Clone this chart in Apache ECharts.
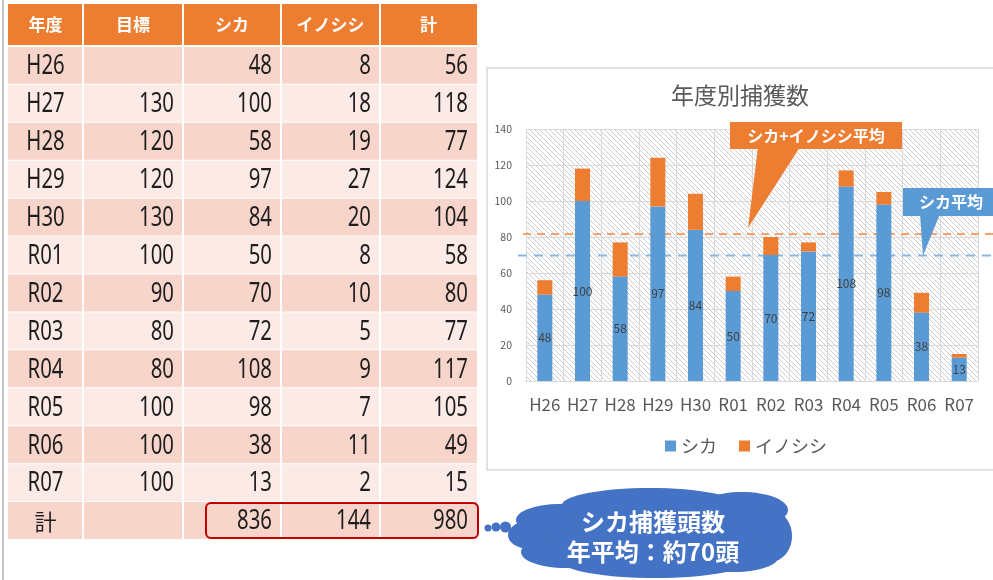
<!DOCTYPE html>
<html>
<head>
<meta charset="utf-8">
<script src="https://cdn.jsdelivr.net/npm/echarts@6.0.0/dist/echarts.min.js"></script>
<style>
html,body{margin:0;padding:0;background:#fff;}
#main{width:993px;height:580px;}
</style>
</head>
<body>
<div id="main"></div>
<script>
// ---------------- data ----------------
const years = ['H26','H27','H28','H29','H30','R01','R02','R03','R04','R05','R06','R07'];
const targets = [null,130,120,120,130,100,90,80,80,100,100,100];
const shika = [48,100,58,97,84,50,70,72,108,98,38,13];
const inoshishi = [8,18,19,27,20,8,10,5,9,7,11,2];
const totals = [56,118,77,124,104,58,80,77,117,105,49,15];
const headers = ['年度','目標','シカ','イノシシ','計'];
const totalRowLabel = '計';
const totalRow = [836,144,980];
const chartTitle = '年度別捕獲数';
const seriesNames = ['シカ','イノシシ'];
const yTicks = [0,20,40,60,80,100,120,140];
const calloutTotalText = 'シカ+イノシシ平均';
const calloutShikaText = 'シカ平均';
const cloudLines = ['シカ捕獲頭数','年平均：約70頭'];

// ---------------- style / layout ----------------
const BLUE = '#5B9BD5', ORANGE = '#ED7D31';
const HEADER_BG = '#ED7D31', ROW_DARK = '#F8D5CB', ROW_LIGHT = '#FCEAE6';
const COL_W = [75,100,98,99,97];
const COL_START = COL_W.map((w,i)=>COL_W.slice(0,i).reduce((a,b)=>a+b,0));
const TABLE_W = COL_W.reduce((a,b)=>a+b,0);
const NUM_FONT = "'Noto Sans','Noto Sans CJK JP',sans-serif";
const CJK_FONT = "'Noto Sans CJK JP','Noto Sans',sans-serif";

// table rows
const tableRows = [headers];
years.forEach((y,i)=>tableRows.push([y, targets[i]==null?'':targets[i], shika[i], inoshishi[i], totals[i]]));
tableRows.push([totalRowLabel,''].concat(totalRow));
const rowKeys = tableRows.map((r,i)=>'row'+i);
const cellData = [];
tableRows.forEach((row,r)=>row.forEach((v,c)=>cellData.push([COL_START[c], r, c])));
function cellText(r,c){ return String(tableRows[r][c]); }

// hatch pattern for plot background
const pc = document.createElement('canvas');
const S = 5; pc.width = S; pc.height = S;
const pctx = pc.getContext('2d');
pctx.fillStyle = '#ffffff'; pctx.fillRect(0,0,S,S);
pctx.strokeStyle = '#CCCCCC'; pctx.lineWidth = 1;
pctx.beginPath();
pctx.moveTo(-1,-1); pctx.lineTo(S+1,S+1);
pctx.moveTo(S-1,-1); pctx.lineTo(S+1,1);
pctx.moveTo(-1,S-1); pctx.lineTo(1,S+1);
pctx.stroke();

function renderCell(params, api){
  const c = api.value(2), r = api.value(1);
  const p0 = api.coord([COL_START[c], r]);
  const p1 = api.coord([COL_START[c]+COL_W[c], r]);
  const bh = api.size([0,1])[1];
  let top = p0[1]-bh/2, bot = p0[1]+bh/2;
  if (r===0){ top -= 5; bot -= 2; } else { bot -= 1; }
  const gl = c===0?0:1, gr = c===4?0:1;
  const fill = r===0 ? HEADER_BG : (r%2===1 ? ROW_DARK : ROW_LIGHT);
  const isHeader = r===0;
  const center = isHeader || c===0;
  const txt = cellText(r,c);
  const isCJK = /[^\x00-\x7F]/.test(txt);
  const narrow = !isHeader && !isCJK;
  return {
    type:'group',
    children:[
      {type:'rect', shape:{x:p0[0]+gl, y:top, width:p1[0]-p0[0]-gl-gr, height:bot-top}, style:{fill:fill}},
      {type:'text',
        x: center ? (p0[0]+p1[0])/2 : p1[0]-9,
        y: (top+bot)/2 + (isHeader?0:1),
        scaleX: narrow ? 0.74 : 1,
        style:{
        text:txt, x:0, y:0,
        align: center?'center':'right',
        verticalAlign:'middle',
        fill: isHeader ? '#ffffff' : '#1E1E1E',
        fontSize: isHeader ? 17 : (isCJK ? 22 : 27.5),
        fontWeight: isHeader ? 'bold' : 'normal',
        fontFamily: isHeader||isCJK ? CJK_FONT : NUM_FONT
      }}
    ]
  };
}
function renderTotalBox(params, api){
  const r = api.value(1);
  const p0 = api.coord([COL_START[2], r]);
  const p1 = api.coord([TABLE_W, r]);
  const bh = api.size([0,1])[1];
  return {type:'rect', z2:10,
    shape:{x:p0[0]+23, y:p0[1]-bh/2+1, width:p1[0]-p0[0]-23+1, height:bh-3, r:5},
    style:{fill:null, stroke:'#C00000', lineWidth:2}};
}

const chart = echarts.init(document.getElementById('main'), null, {renderer:'canvas'});
const option = {
  animation:false,
  backgroundColor:'#ffffff',
  textStyle:{fontFamily:CJK_FONT},
  title:{text:chartTitle, left:671, top:84, padding:0,
    textStyle:{fontSize:23, fontWeight:'normal', color:'#595959', fontFamily:CJK_FONT}},
  legend:{data:seriesNames, left:660, top:432, icon:'rect', itemWidth:11, itemHeight:11, itemGap:22,
    textStyle:{fontSize:18, color:'#595959', fontFamily:CJK_FONT}},
  grid:[
    {left:526, top:129, width:452, height:252, show:true, borderWidth:0,
      backgroundColor:{image:pc, repeat:'repeat'}},
    {left:8, top:9, width:TABLE_W, height:531, show:false}
  ],
  xAxis:[
    {type:'category', gridIndex:0, data:years,
      axisTick:{show:false}, axisLine:{lineStyle:{color:'#D9D9D9'}},
      splitLine:{show:true, interval:0, lineStyle:{color:'#D9D9D9'}},
      axisLabel:{interval:0, fontSize:17, color:'#595959', margin:15, fontFamily:CJK_FONT}},
    {type:'value', gridIndex:1, min:0, max:TABLE_W, show:false}
  ],
  yAxis:[
    {type:'value', gridIndex:0, min:yTicks[0], max:yTicks[yTicks.length-1], interval:yTicks[1]-yTicks[0],
      axisLine:{show:false}, axisTick:{show:false},
      splitLine:{lineStyle:{color:'#D9D9D9'}},
      axisLabel:{fontSize:10.5, color:'#595959', margin:14}},
    {type:'category', gridIndex:1, data:rowKeys, inverse:true, show:false}
  ],
  series:[
    {name:seriesNames[0], type:'bar', stack:'catch', barWidth:15, data:shika,
      itemStyle:{color:BLUE},
      label:{show:true, position:'inside', color:'#404040', fontSize:12}},
    {name:seriesNames[1], type:'bar', stack:'catch', barWidth:15, data:inoshishi,
      itemStyle:{color:ORANGE}},
    {type:'custom', xAxisIndex:1, yAxisIndex:1, data:cellData, renderItem:renderCell, silent:true},
    {type:'custom', xAxisIndex:1, yAxisIndex:1, data:[[COL_START[2], tableRows.length-1, 2]], renderItem:renderTotalBox, silent:true, z:5}
  ]
};
chart.setOption(option);

// averages through the value axis
const avgShika = shika.reduce((a,b)=>a+b,0)/shika.length;
const avgTotal = totals.reduce((a,b)=>a+b,0)/totals.length;
const yTot = chart.convertToPixel({yAxisIndex:0}, avgTotal);
const ySh = chart.convertToPixel({yAxisIndex:0}, avgShika);

const cloudEllipses = [
  [648,533,138,30],[560,520,44,16],[650,505,88,17],[742,510,46,18],
  [770,536,22,26],[655,561,94,17],[565,552,44,16],[735,556,44,16],[530,535,22,14]
];
const graphics = [
  {type:'rect', z:-10, silent:true, shape:{x:487, y:68, width:520, height:402},
    style:{fill:'#ffffff', stroke:'#D9D9D9', lineWidth:1.5}},
  {type:'line', z:-10, silent:true, shape:{x1:3, y1:0, x2:3, y2:580},
    style:{stroke:'#C4C4C4', lineWidth:2}},
  {type:'line', z:1, silent:true, shape:{x1:523, y1:yTot, x2:993, y2:yTot},
    style:{stroke:'#F4A36F', lineWidth:2, lineDash:[8,6]}},
  {type:'line', z:1, silent:true, shape:{x1:518, y1:ySh, x2:993, y2:ySh},
    style:{stroke:'#8DB6E3', lineWidth:2, lineDash:[9,7]}},
  // orange callout
  {type:'polygon', z:20, silent:true, shape:{points:[[758,147],[800,147],[748,yTot-6]]}, style:{fill:ORANGE}},
  {type:'rect', z:20, silent:true, shape:{x:730, y:122, width:172, height:27}, style:{fill:ORANGE}},
  {type:'text', z:21, silent:true, style:{text:calloutTotalText, x:816, y:135.5, align:'center', verticalAlign:'middle',
    fill:'#ffffff', fontSize:16, fontWeight:'bold', fontFamily:CJK_FONT}},
  // blue callout
  {type:'polygon', z:20, silent:true, shape:{points:[[920,214],[940,214],[923,ySh]]}, style:{fill:BLUE}},
  {type:'rect', z:20, silent:true, shape:{x:903, y:188, width:100, height:28}, style:{fill:BLUE}},
  {type:'text', z:21, silent:true, style:{text:calloutShikaText, x:951, y:202, align:'center', verticalAlign:'middle',
    fill:'#ffffff', fontSize:16, fontWeight:'bold', fontFamily:CJK_FONT}},
  // cloud
  {type:'group', z:20, silent:true, children:
    cloudEllipses.map(e=>({type:'ellipse', shape:{cx:e[0], cy:e[1], rx:e[2], ry:e[3]}, style:{fill:'#4472C4'}}))
    .concat([
      {type:'circle', shape:{cx:488, cy:528, r:3.5}, style:{fill:'#4472C4'}},
      {type:'circle', shape:{cx:496, cy:527, r:4.5}, style:{fill:'#4472C4'}},
      {type:'circle', shape:{cx:505.5, cy:527, r:5.5}, style:{fill:'#4472C4'}}
    ])
  },
  {type:'text', z:22, silent:true, style:{text:cloudLines[0], x:653, y:522, align:'center', verticalAlign:'middle',
    fill:'#ffffff', fontSize:24, fontWeight:'bold', fontFamily:CJK_FONT}},
  {type:'text', z:22, silent:true, style:{text:cloudLines[1], x:653, y:552, align:'center', verticalAlign:'middle',
    fill:'#ffffff', fontSize:24, fontWeight:'bold', fontFamily:CJK_FONT}}
];
chart.setOption({graphic:graphics});
</script>
</body>
</html>
